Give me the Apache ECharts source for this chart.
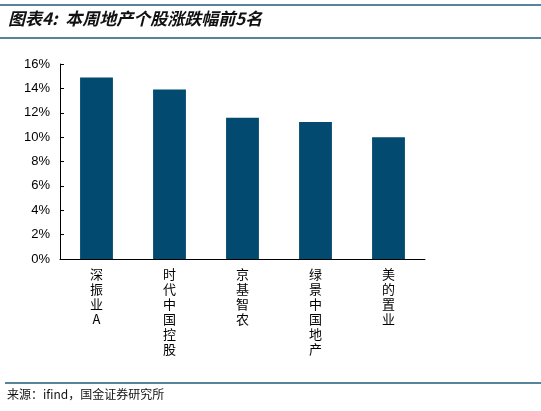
<!DOCTYPE html><html><head><meta charset="utf-8"><script src="https://cdn.jsdelivr.net/npm/echarts@6/dist/echarts.min.js"></script></head><body style="margin:0"><div id="c" style="width:541px;height:411px"></div><script>
const categories=['深振业A','时代中国控股','京基智农','绿景中国地产','美的置业'];
const values=[14.9,13.9,11.6,11.25,10.0];
const ch=echarts.init(document.getElementById('c'));
const lc='#1f5a7a';
ch.setOption({animation:false,
grid:{left:60,right:116,top:64,bottom:152},
graphic:[
{type:'line',shape:{x1:0,y1:5,x2:541,y2:5},style:{stroke:lc,lineWidth:1.5}},
{type:'line',shape:{x1:0,y1:38,x2:541,y2:38},style:{stroke:lc,lineWidth:1.5}},
{type:'line',shape:{x1:5,y1:383,x2:541,y2:383},style:{stroke:lc,lineWidth:1.5}},
{type:'text',left:8,top:10,style:{text:'图表4:  本周地产个股涨跌幅前5名',font:'italic bold 17px "Noto Sans CJK SC"',fill:'#111',letterSpacing:3}},
{type:'text',left:7,top:388,style:{text:'来源：ifind，国金证券研究所',font:'12px "Noto Sans CJK SC"',fill:'#111',letterSpacing:1}}
],
xAxis:{type:'category',data:categories,axisLine:{lineStyle:{color:'#000'}},axisTick:{inside:true,length:4,lineStyle:{color:'#000'}},
axisLabel:{interval:0,margin:8,color:'#000',fontSize:13,lineHeight:15,fontFamily:'Noto Sans CJK SC',formatter:v=>v.split('').join('\n')}},
yAxis:{type:'value',min:0,max:16,interval:2,splitLine:{show:false},axisLine:{show:true,lineStyle:{color:'#000'}},axisTick:{show:true,inside:true,length:4,lineStyle:{color:'#000'}},
axisLabel:{formatter:'{value}%',color:'#000',fontSize:13,fontFamily:'Liberation Sans',margin:10}},
series:[{type:'bar',data:values,barWidth:'45%',itemStyle:{color:'#034a70'}}]});
</script></body></html>
